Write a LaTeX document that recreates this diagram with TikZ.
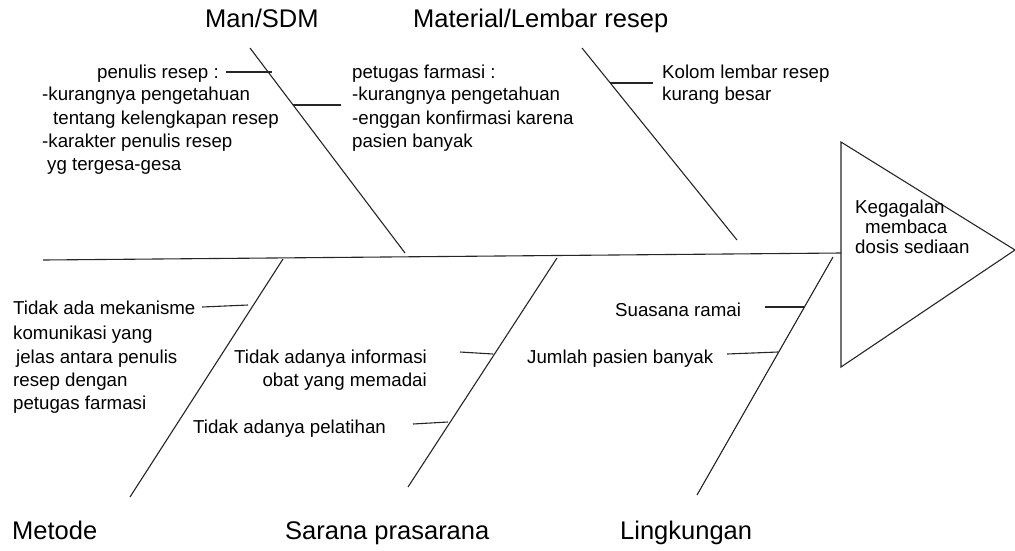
\documentclass[tikz,border=0pt]{standalone}
\usepackage{fontspec}
\setmainfont{Liberation Sans}
\begin{document}
\begin{tikzpicture}[x=1pt,y=-1pt,
  bone/.style={line width=1.1pt, draw=black!85},
  twig/.style={line width=1.1pt, draw=black!85},
  txt/.style={anchor=base west, inner sep=0pt, font=\fontsize{18.7}{22}\selectfont},
  txtr/.style={anchor=base east, inner sep=0pt, font=\fontsize{18.7}{22}\selectfont},
  ttl/.style={anchor=base west, inner sep=0pt, font=\fontsize{25.5}{30}\selectfont}]
\useasboundingbox (0,0) rectangle (1015,550);

% spine and head
\coordinate (spL) at (43,260);
\coordinate (hTop) at (841,142);
\coordinate (hBot) at (841,367);
\coordinate (hTip) at (1015,250);
\coordinate (hW) at (841,253);
\draw[bone] (spL) -- (hW);
\draw[bone] (hTop) -- (hTip) -- (hBot) -- cycle;
\node[txt] (k1) at (855,213) {Kegagalan};
\node[txt] (k2) at (865,233) {membaca};
\node[txt] (k3) at (855,253) {dosis sediaan};

% bones
\coordinate (manT) at (250,48);   \coordinate (manB) at (405,253);
\coordinate (matT) at (582,48);   \coordinate (matB) at (737,240);
\coordinate (metT) at (283,259);  \coordinate (metB) at (130,497);
\coordinate (sarT) at (557,258);  \coordinate (sarB) at (408,487);
\coordinate (linT) at (833,257);  \coordinate (linB) at (697,495);
\draw[bone] (manT) -- (manB);
\draw[bone] (matT) -- (matB);
\draw[bone] (metT) -- (metB);
\draw[bone] (sarT) -- (sarB);
\draw[bone] (linT) -- (linB);

% twigs
\coordinate (a1) at (226,72);  \coordinate (a2) at (272,72);
\coordinate (b1) at (293,105); \coordinate (b2) at (341,105);
\coordinate (c1) at (610,83);  \coordinate (c2) at (653,83);
\coordinate (d1) at (202,307); \coordinate (d2) at (248,305);
\coordinate (e1) at (460,352); \coordinate (e2) at (493,354);
\coordinate (f1) at (413,424); \coordinate (f2) at (448,422);
\coordinate (g1) at (765,307); \coordinate (g2) at (805,307);
\coordinate (h1) at (727,354); \coordinate (h2) at (778,352);
\foreach \p/\q in {a1/a2,b1/b2,c1/c2,d1/d2,e1/e2,f1/f2,g1/g2,h1/h2}
  \draw[twig] (\p) -- (\q);

% titles
\node[ttl] (tMan) at (205,27) {Man/SDM};
\node[ttl] (tMat) at (413,27) {Material/Lembar resep};
\node[ttl] (tMet) at (12,539) {Metode};
\node[ttl] (tSar) at (285,539) {Sarana prasarana};
\node[ttl] (tLin) at (620,539) {Lingkungan};

% Man texts
\node[txt] (p1) at (97,78) {penulis resep :};
\node[txt] (p2) at (42,100) {-kurangnya pengetahuan};
\node[txt] (p3) at (53,124) {tentang kelengkapan resep};
\node[txt] (p4) at (42,147) {-karakter penulis resep};
\node[txt] (p5) at (47,170) {yg tergesa-gesa};
\node[txt] (q1) at (352,78) {petugas farmasi :};
\node[txt] (q2) at (352,100) {-kurangnya pengetahuan};
\node[txt] (q3) at (352,124) {-enggan konfirmasi karena};
\node[txt] (q4) at (352,147) {pasien banyak};

% Material texts
\node[txt] (r1) at (662,78) {Kolom lembar resep};
\node[txt] (r2) at (662,100) {kurang besar};

% Metode texts
\node[txt] (s1) at (13,314) {Tidak ada mekanisme};
\node[txt] (s2) at (13,339) {komunikasi yang};
\node[txt] (s3) at (16,363) {jelas antara penulis};
\node[txt] (s4) at (13,386) {resep dengan};
\node[txt] (s5) at (13,409) {petugas farmasi};

% Sarana texts
\node[txtr] (u1) at (427,363) {Tidak adanya informasi};
\node[txtr] (u2) at (427,386) {obat yang memadai};
\node[txt] (u3) at (193,433) {Tidak adanya pelatihan};

% Lingkungan texts
\node[txt] (v1) at (615,316) {Suasana ramai};
\node[txt] (v2) at (527,363) {Jumlah pasien banyak};
\end{tikzpicture}
\end{document}
